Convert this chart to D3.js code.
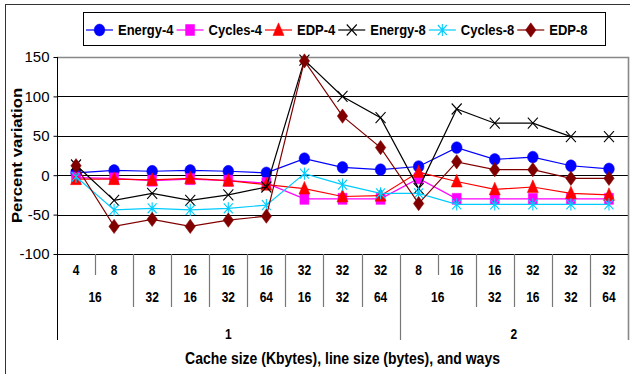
<!DOCTYPE html>
<html>
<head>
<meta charset="utf-8">
<script src="https://cdn.jsdelivr.net/npm/d3@7/dist/d3.min.js"></script>
<style>
  html, body { margin: 0; padding: 0; background: #fff; }
  svg { display: block; font-family: "Liberation Sans", Arial, sans-serif; }
</style>
</head>
<body>
<svg id="chart" width="630" height="374"></svg>
<script>
// Cache configurations: size (KB), line size (bytes), associativity (ways)
const cacheSize = ["4", "8", "8", "16", "16", "16", "32", "32", "32", "8", "16", "16", "32", "32", "32"];
const lineSize  = ["16", "16", "32", "16", "32", "64", "16", "32", "64", "16", "16", "32", "16", "32", "64"];
const ways      = ["1", "1", "1", "1", "1", "1", "1", "1", "1", "2", "2", "2", "2", "2", "2"];

// Percent variation per configuration
const energy4 = [3, 6, 5, 6, 5, 3, 21, 10, 7, 11, 35, 20, 23, 12, 8];
const cycles4 = [-3, -4, -7, -5, -7, -10, -30, -30, -30, -4, -30, -30, -30, -30, -30];
const edp4    = [-5, -5, -6, -4, -7, -12, -17, -27, -26, 4, -8, -18, -15, -23, -25];
const energy8 = [13, -32, -23, -32, -25, -15, 146, 100, 73, -17, 84, 66, 66, 49, 49];
const cycles8 = [-2, -44, -42, -44, -42, -38, 2, -12, -23, -23, -37, -37, -37, -37, -37];
const edp8    = [12, -65, -56, -65, -57, -52, 145, 75, 35, -36, 17, 7, 7, -4, -4];

const yTicks = [150, 100, 50, 0, -50, -100];

const series = [
  { name: "Energy-4", values: energy4, color: "#0000ff", marker: "circle" },
  { name: "Cycles-4", values: cycles4, color: "#ff00ff", marker: "square" },
  { name: "EDP-4",    values: edp4,    color: "#ff0000", marker: "triangle" },
  { name: "Energy-8", values: energy8, color: "#000000", marker: "x" },
  { name: "Cycles-8", values: cycles8, color: "#00ccff", marker: "star" },
  { name: "EDP-8",    values: edp8,    color: "#800000", marker: "diamond" }
];

const svg = d3.select("#chart");
const plot = { left: 57, right: 628, top: 57, bottom: 254 };
const axisBottom = 340;

// outer frame of the chart area
svg.append("rect")
  .attr("x", 5.5).attr("y", 4.5).attr("width", 700).attr("height", 500)
  .attr("fill", "#fff").attr("stroke", "#333").attr("stroke-width", 1);

const idx = d3.range(cacheSize.length);
const x = d3.scaleBand().domain(idx).range([plot.left, plot.right]);
const y = d3.scaleLinear().domain([-100, 150]).range([plot.bottom, plot.top]);

// horizontal gridlines
const g = svg.append("g");
g.selectAll("line.grid")
  .data(yTicks.filter(t => t !== 150 && t !== -100))
  .join("line")
  .attr("class", "grid")
  .attr("x1", plot.left).attr("x2", plot.right)
  .attr("y1", d => Math.round(y(d)) + 0.5).attr("y2", d => Math.round(y(d)) + 0.5)
  .attr("stroke", "#000").attr("stroke-width", 1);

// plot frame (top and right edges)
g.append("path")
  .attr("d", `M${plot.left},${plot.top + 0.5}H${plot.right + 0.5}V${axisBottom}`)
  .attr("fill", "none").attr("stroke", "#888").attr("stroke-width", 1.6);

// y axis
const yAxis = d3.axisLeft(y).tickValues(yTicks).tickSize(4).tickPadding(4)
  .tickFormat(d => String(d));
const ya = svg.append("g")
  .attr("transform", `translate(${plot.left + 0.5},0)`)
  .call(yAxis);
ya.select(".domain").remove();
ya.selectAll(".tick line").attr("stroke", "#000");
ya.selectAll(".tick text")
  .attr("fill", "#000")
  .style("font-size", "15px")
  .style("font-family", "'Liberation Sans', Arial, sans-serif");
svg.append("line")
  .attr("x1", plot.left + 0.5).attr("x2", plot.left + 0.5)
  .attr("y1", plot.top).attr("y2", axisBottom)
  .attr("stroke", "#000");

// category axis baseline
svg.append("line")
  .attr("x1", plot.left).attr("x2", plot.right)
  .attr("y1", plot.bottom + 0.5).attr("y2", plot.bottom + 0.5)
  .attr("stroke", "#000");

// multi-level category separators
const lvl1Bottom = 275, lvl2Bottom = 307;
for (let i = 0; i < idx.length - 1; i++) {
  const xb = x(i) + x.bandwidth();
  let yEnd = lvl1Bottom;
  if (ways[i] !== ways[i + 1]) yEnd = axisBottom;
  else if (lineSize[i] !== lineSize[i + 1]) yEnd = lvl2Bottom;
  svg.append("line")
    .attr("x1", Math.round(xb) + 0.5).attr("x2", Math.round(xb) + 0.5)
    .attr("y1", plot.bottom).attr("y2", yEnd)
    .attr("stroke", "#777").attr("stroke-width", 1.2);
}

function catLabel(cx, cy, text) {
  svg.append("text")
    .attr("transform", `translate(${cx},${cy}) scale(1,1.15)`)
    .attr("text-anchor", "middle")
    .attr("dominant-baseline", "central")
    .style("font-size", "12px")
    .style("font-weight", "bold")
    .attr("fill", "#000")
    .text(text);
}

// level 1: cache size
idx.forEach(i => catLabel(x(i) + x.bandwidth() / 2, 270, cacheSize[i]));

// group runs of equal labels within a parent group
function runs(labels, parents) {
  const out = [];
  let start = 0;
  for (let i = 1; i <= labels.length; i++) {
    if (i === labels.length || labels[i] !== labels[start] || (parents && parents[i] !== parents[start])) {
      out.push({ label: labels[start], s: start, e: i - 1 });
      start = i;
    }
  }
  return out;
}
runs(lineSize, ways).forEach(r => {
  catLabel((x(r.s) + x(r.e) + x.bandwidth()) / 2, 297, r.label);
});
runs(ways).forEach(r => {
  catLabel((x(r.s) + x(r.e) + x.bandwidth()) / 2, 334, r.label);
});

// axis titles
svg.append("text")
  .attr("transform", `translate(${(plot.left + plot.right) / 2},358) scale(1,1.15)`)
  .attr("text-anchor", "middle")
  .attr("dominant-baseline", "central")
  .style("font-size", "14px").style("font-weight", "bold")
  .text("Cache size (Kbytes), line size (bytes), and ways");

svg.append("text")
  .attr("transform", `translate(17,${(plot.top + plot.bottom) / 2}) rotate(-90) scale(1.15,1)`)
  .attr("text-anchor", "middle")
  .attr("dominant-baseline", "central")
  .style("font-size", "14.5px").style("font-weight", "bold")
  .text("Percent variation");

// marker shapes
function markerPath(type) {
  switch (type) {
    case "circle": return d3.symbol(d3.symbolCircle, 90)();
    case "square": return "M-4.5,-5H4.5V5H-4.5Z";
    case "triangle": return "M0,-6.5L5.5,5H-5.5Z";
    case "diamond": return "M0,-6.5L5.2,0L0,6.5L-5.2,0Z";
    case "x": return "M-5,-5L5,5M-5,5L5,-5";
    case "star": return "M-4.5,-4.5L4.5,4.5M-4.5,4.5L4.5,-4.5M0,-5.5V5.5";
  }
}
function drawMarker(sel, s) {
  const filled = s.marker !== "x" && s.marker !== "star";
  sel.attr("d", markerPath(s.marker))
    .attr("fill", filled ? s.color : "none")
    .attr("stroke", s.color)
    .attr("stroke-width", filled ? 0.5 : 1.1);
}

const line = d3.line()
  .x((d, i) => x(i) + x.bandwidth() / 2)
  .y(d => y(d));

series.forEach(s => {
  const sg = svg.append("g");
  sg.append("path")
    .attr("d", line(s.values))
    .attr("fill", "none")
    .attr("stroke", s.color)
    .attr("stroke-width", 1.2);
  sg.selectAll("path.mk")
    .data(s.values)
    .join("path")
    .attr("class", "mk")
    .attr("transform", (d, i) => `translate(${x(i) + x.bandwidth() / 2},${y(d)}) scale(1,1.1)`)
    .call(sel => drawMarker(sel, s));
});

// legend
const lg = svg.append("g");
lg.append("rect")
  .attr("x", 83.5).attr("y", 12.5).attr("width", 522).attr("height", 33)
  .attr("fill", "#fff").attr("stroke", "#000").attr("stroke-width", 1);
let lx = 86;
const ly = 30;
series.forEach(s => {
  lg.append("line")
    .attr("x1", lx).attr("x2", lx + 27)
    .attr("y1", ly).attr("y2", ly)
    .attr("stroke", s.color).attr("stroke-width", 1.2);
  lg.append("path")
    .attr("transform", `translate(${lx + 13.5},${ly}) scale(1,1.1)`)
    .call(sel => drawMarker(sel, s));
  const t = lg.append("text")
    .attr("transform", `translate(${lx + 32},${ly}) scale(1,1.08)`)
    .attr("dominant-baseline", "central")
    .style("font-size", "13px").style("font-weight", "bold")
    .text(s.name);
  lx = lx + 32 + t.node().getComputedTextLength() + 3;
});
</script>
</body>
</html>
